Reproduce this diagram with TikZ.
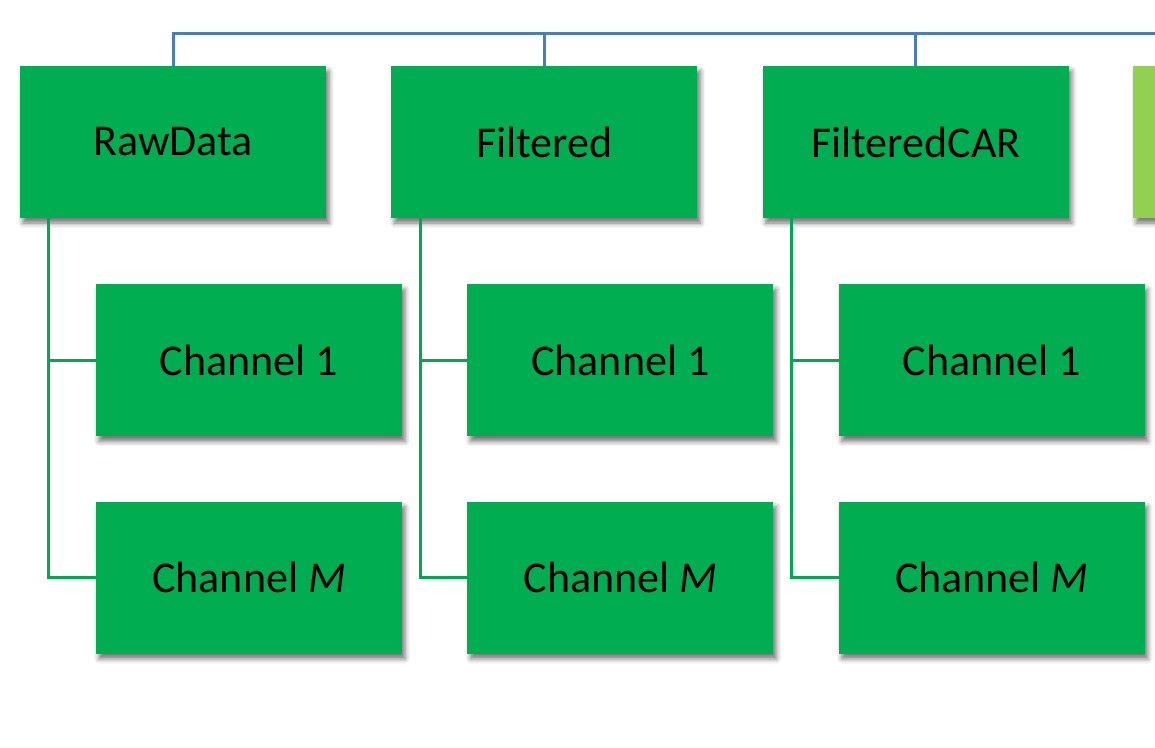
\documentclass[tikz,border=0pt]{standalone}
\usepackage{fontspec}
\setmainfont{Carlito}
\usepackage{tikz}
\usetikzlibrary{positioning,calc,shadows.blur}
\definecolor{boxgreen}{RGB}{0,173,80}
\definecolor{linegreen}{RGB}{0,168,80}
\definecolor{busblue}{RGB}{74,126,187}
\definecolor{lightgreen}{RGB}{146,208,80}
\tikzstyle{catbox}=[rectangle, fill=boxgreen, minimum width=306pt, minimum height=152pt,
  inner sep=0pt, font=\fontsize{44}{52}\selectfont,
  blur shadow={shadow xshift=3pt, shadow yshift=-5pt, shadow blur radius=5pt, shadow opacity=55}]
\tikzstyle{busline}=[busblue, line width=3pt]
\tikzstyle{childline}=[linegreen, line width=3pt]

\begin{document}
\begin{tikzpicture}
  \clip (0,0) rectangle (1155pt,-747pt);
  % top row
  \node[catbox] (raw) at (173pt,-142pt) {RawData};
  \node[catbox, right=65pt of raw] (filtered) {Filtered};
  \node[catbox, right=65pt of filtered] (filteredcar) {FilteredCAR};
  \node[catbox, fill=lightgreen, right=64pt of filteredcar] (next) {};
  % channels
  \node[catbox, below right=66pt and 76pt of raw.south west] (raw1) {Channel 1};
  \node[catbox, below=65pt of raw1] (rawM) {Channel \textit{M}};
  \node[catbox, below right=66pt and 76pt of filtered.south west] (filt1) {Channel 1};
  \node[catbox, below=65pt of filt1] (filtM) {Channel \textit{M}};
  \node[catbox, below right=66pt and 76pt of filteredcar.south west] (car1) {Channel 1};
  \node[catbox, below=65pt of car1] (carM) {Channel \textit{M}};
  % bus
  \draw[busline] (raw.north) -- ++(0,32pt) -| (next.north);
  \draw[busline] (filtered.north) -- ++(0,32pt);
  \draw[busline] (filteredcar.north) -- ++(0,32pt);
  % lines to channels
  \draw[childline] ($(raw.south west)+(29pt,0)$) |- (raw1.west);
  \draw[childline] ($(raw.south west)+(29pt,0)$) |- (rawM.west);
  \draw[childline] ($(filtered.south west)+(29pt,0)$) |- (filt1.west);
  \draw[childline] ($(filtered.south west)+(29pt,0)$) |- (filtM.west);
  \draw[childline] ($(filteredcar.south west)+(29pt,0)$) |- (car1.west);
  \draw[childline] ($(filteredcar.south west)+(29pt,0)$) |- (carM.west);
\end{tikzpicture}
\end{document}
